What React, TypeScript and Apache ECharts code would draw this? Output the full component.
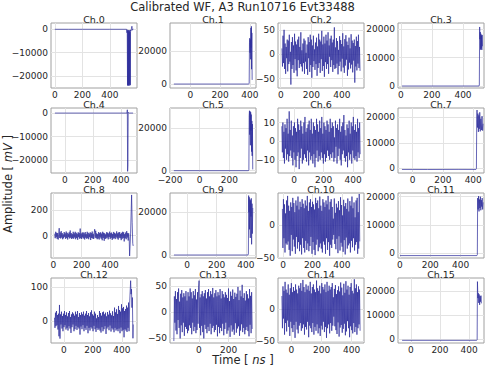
import React, { useEffect, useRef } from 'react';
import * as echarts from 'echarts';

// ---------------- data ----------------
const channelNames = ['Ch.0','Ch.1','Ch.2','Ch.3','Ch.4','Ch.5','Ch.6','Ch.7','Ch.8','Ch.9','Ch.10','Ch.11','Ch.12','Ch.13','Ch.14','Ch.15'];

// spike channels: [time ns, amplitude mV]
const ch0Pts = [[0,0],[100,0],[200,0],[300,0],[400,0],[522,0],[525,-1500],[527,-200],[529,-24000],[531,-600],[533,-24300],[535,-300],[537,-23900],[539,-900],[541,-24200],[543,-400],[545,-23700],[547,-1200],[549,-24000],[551,-300],[553,-800],[557,200],[561,1300],[564,-400],[570,200]];
const ch1Pts = [[-112,0],[0,0],[200,0],[390,0],[396,300],[398,25000],[400,27800],[402,19000],[404,27000],[406,15000],[408,34000],[409,22000],[411,35000],[412,9000],[414,31000],[416,2500]];
const ch3Pts = [[8,0],[200,0],[400,0],[503,0],[505,300],[507,20800],[509,16500],[511,19000],[513,12800],[515,18400],[517,13200],[519,17800],[521,12700],[523,18000],[525,14000]];
const ch4Pts = [[-71,0],[200,0],[444,0],[446,1400],[448,-24700],[450,-22000],[452,300],[460,0],[487,0]];
const ch5Pts = [[-174,0],[0,0],[329,0],[332,400],[334,26000],[336,28300],[338,17000],[340,28000],[342,12000],[344,27600],[346,19000],[348,26500],[350,9000],[352,23500],[354,7000],[356,22000],[358,600]];
const ch7Pts = [[-70,-500],[0,-500],[100,-520],[200,-500],[300,-480],[418,-500],[421,-200],[423,19000],[425,22900],[428,16000],[431,21500],[434,14300],[437,20800],[440,15500],[443,22000],[446,14500],[450,19500],[454,15000],[458,20500],[462,14800],[465,17500]];
const ch9Pts = [[-90,0],[0,0],[200,0],[414,0],[417,500],[419,27800],[421,20000],[423,27000],[425,12000],[428,26000],[430,8000],[432,25500],[435,18000],[437,26500],[439,5000],[442,24000],[444,10000],[447,22000]];
const ch11Pts = [[0,-800],[200,-800],[400,-800],[508,-800],[511,-500],[513,19500],[516,15500],[519,20200],[522,14800],[525,19000],[528,16000],[531,20000],[534,15200],[537,18800],[540,16500],[543,19500],[546,15500],[549,18000]];
const ch15Pts = [[-60,-500],[200,-500],[452,-500],[455,-200],[457,23800],[460,17000],[463,19000],[466,15000],[469,18500],[472,14200],[475,17800],[478,15500],[481,18000],[484,14800]];

// noise channels: amplitude samples (mV), evenly sampled over a time span (ns)
const ch2Span = [8, 519];
const ch2Vals = [12,-25,38,-18,50,-30,22,-40,15,-8,30,-35,28,-20,40,-15,5,-62,25,-30,
35,-22,18,-38,42,-10,26,-33,20,-45,30,-12,36,-28,15,-20,45,-25,8,-35,
22,-18,32,-40,28,-15,3,-30,20,-42,35,-8,25,-36,40,-22,30,-48,18,-26,
38,-14,10,-32,24,-20,34,-44,16,-28,42,-18,30,-38,26,-10,48,-34,20,-24,
36,-46,22,-16,40,-30,28,-20,45,-40,18,-5,32,-26,38,-12,24,-36,30,-22,
55,-30,14,-28,33,-19,27,-41,9,-24,37,-15,29,-35,21,-9,43,-27,16,-38,
31,-23,39,-11,26,-44,19,-31,34,-17,12,-29,41,-21,28,-37,23,-13,30,-58,
17,-25,36,-33,27,-19,40,-28,15,-34];
const ch6Span = [-83, 448];
const ch6Vals = [8,-6,10,-9,5,-12,9,-4,7,-10,12,-7,4,-11,16,-8,6,-5,11,-9,
3,-13,8,-6,10,-10,7,-14,5,-8,12,-6,9,-15,6,-9,11,-4,8,-12,
4,-10,10,-7,13,-9,5,-11,7,-5,9,-13,11,-6,6,-10,12,-8,4,-12,
10,-7,8,-14,6,-9,12,-5,9,-11,5,-8,11,-10,7,-6,13,-9,4,-12,
10,-7,8,-11,6,-9,11,-5,9,-8,5,-10,12,-7,7,-9,10,-6,8,-11,
2,-9,11,-3,7,-12,9,-8,6,-4,12,-10,5,-13,8,-7,10,-5,14,-9,
6,-11,3,-8,9,-14,7,-6,11,-10,4,-7,10,-12,8,-5,13,-9,6,-10,
9,-8,5,-11,12,-6,7,-9,10,-7];
const ch8Span = [10, 535];
const ch8Vals = [15,-20,30,-12,22,-25,20,-30,12,58,-18,25,-22,35,-15,20,-28,10,-20,28,
-10,18,-25,32,-18,22,-30,15,-12,26,-22,40,-16,20,-26,12,-20,30,-24,18,
-14,30,-28,22,-18,14,-32,26,-12,20,-24,55,-20,16,-26,24,-14,25,-22,18,
-30,28,-16,12,-24,30,-20,22,-28,16,-12,26,-34,20,-18,32,-22,14,-26,24,
50,-16,38,-20,18,-28,12,-22,28,-30,20,-14,26,-24,16,-36,30,-18,22,-40,
18,-26,10,-21,27,-15,23,-29,17,-11,31,-25,19,-17,24,-33,13,-23,29,-19,
21,-27,15,-13,33,-22,18,-31,25,-16,28,-20,14,-35,22,-24,30,-18,26,-45,
12,-20,24,-28,35,-15,20,-38,18,-25];
const ch8Tail = [[538,-158],[545,20],[552,317],[556,100],[560,-60],[563,-80]];
const ch10Span = [-5, 522];
const ch10Vals = [25,-35,40,-20,32,-42,18,-28,38,-30,45,-25,30,-38,22,-47,35,-15,28,-40,
42,-22,34,-33,20,-44,38,-18,30,-36,44,-26,24,-40,36,-30,28,-45,40,-20,
33,-35,26,-42,38,-24,30,-38,45,-28,22,-40,35,-32,40,-18,28,-44,36,-26,
32,-38,24,-46,42,-30,34,-22,38,-40,26,-34,44,-28,30,-36,22,-42,40,-25,
35,-30,28,-44,38,-20,32,-38,45,-26,24,-47,36,-30,40,-35,28,-22,10,-15,
41,-29,19,-37,33,-21,27,-43,37,-17,23,-39,43,-27,31,-33,15,-41,39,-23,
29,-45,34,-19,25,-36,41,-31,21,-28,37,-42,30,-24,44,-34,26,-20,35,-39,
12,-30,38,-26,42,-44,20,-36,48,-25];
const ch12Span = [-65, 450];
const ch12Vals = [10,-20,25,-15,30,-12,18,-25,22,-45,48,-52,20,-10,28,-22,15,-30,22,-18,
30,-12,18,-25,26,-20,14,-28,24,-15,30,-22,12,-35,20,-18,26,-10,22,-30,
16,-24,28,-14,20,-26,30,-18,12,-22,24,-40,18,-16,26,-24,20,-12,28,-30,
16,-20,22,-26,30,-14,18,-36,24,-20,14,-28,26,-18,32,-22,20,-30,16,-14,
28,-24,22,-32,8,-20,18,-26,12,-22,30,-28,24,-34,16,-18,26,-30,28,-24,
20,-15,25,-38,14,-22,27,-17,19,-27,31,-13,23,-31,17,-21,29,-25,15,-33,
40,-20,26,-28,35,-24,21,-30,45,-22,33,-36,28,-19,50,-30,38,-26,42,-48,
30,-24,36,-28,46,-32,40,-20,55,-30];
const ch12Tail = [[455,60],[461,120],[464,80],[467,95],[470,40],[473,70],[477,-51],[479,-10]];
const ch13Span = [-169, 359];
const ch13Vals = [-55,30,-20,40,-35,25,-42,38,-15,45,-30,20,-50,35,-25,42,-38,28,-20,36,
-45,30,-28,40,-32,22,-40,38,-35,30,-25,45,-30,38,-42,26,-20,40,-36,32,
-28,44,-40,24,-34,38,-22,46,60,-30,28,-44,34,-26,40,-38,30,-50,36,-24,
42,-32,26,-40,38,-28,44,-36,30,-22,40,-42,34,-30,46,-26,28,-38,36,-34,
42,-24,30,-46,38,-28,32,-40,44,-30,26,-36,40,-22,34,-44,28,-32,38,-20,
33,-41,27,-35,45,-29,21,-47,39,-25,31,-37,43,-33,25,-43,37,-21,29,-39,
35,-31,48,-27,23,-45,41,-35,30,-23,52,-38,27,-30,36,-42,22,-34,40,-28,
34,-36,26,-46,44,-24,31,-40,38,-32];
const ch14Span = [-63, 456];
const ch14Vals = [20,-30,35,-15,28,-40,42,-22,30,-35,25,-18,38,-28,22,-42,32,-20,40,-30,
26,-36,34,-25,28,-45,38,-20,30,-32,24,-38,36,-26,32,-22,40,-34,28,-30,
45,-24,34,-40,26,-28,38,-32,30,-20,36,-44,28,-26,42,-30,24,-36,34,-22,
38,-40,30,-28,26,-34,44,-24,32,-38,28,-30,36,-42,24,-26,40,-32,34,-20,
30,-36,38,-28,26,-45,42,-30,28,-24,36,-38,30,-22,34,-34,40,-26,18,-12,
31,-27,37,-33,23,-39,29,-21,35,-43,27,-29,41,-25,33,-37,21,-31,39,-23,
25,-41,43,-35,30,-19,36,-30,22,-44,34,-27,40,-33,28,-38,24,-22,46,-36,
32,-28,38,-40,26,-30,35,-24,30,-34];

// tick values
const xTicks = [[0,200,400],[0,200,400],[0,200,400],[0,200,400],[0,200,400],[-200,0,200],[0,200,400],[0,200,400],[0,200,400],[0,200,400],[0,200,400],[0,200,400],[0,200,400],[0,200],[0,200,400],[0,200,400]];
const yTicks = [[-20000,-10000,0],[0,20000],[-50,0,50],[0,10000,20000],[-20000,-10000,0],[0,20000],[-10,0,10],[0,10000,20000],[0,200],[0,20000],[-50,0],[0,10000,20000],[0,100],[-50,0,50],[-50,0],[0,10000,20000]];

// axis view limits
const xLim = [[-28,598],[-138,442],[-18,545],[-18,535],[-99,515],[-200,380],[-109,474],[-96,471],[-16,590],[-117,469],[-35,551],[-13,555],[-89,505],[-195,385],[-89,482],[-88,502]];
const yLim = [[-25200,2700],[-2400,37000],[-69,64],[-700,22200],[-25400,2150],[-1100,29600],[-17.1,17.8],[-1900,23700],[-174,332],[-1400,29000],[-50.5,49.5],[-1650,21300],[-65,128],[-58.7,65],[-53,48],[-1600,25300]];

// ---------------- layout ----------------
const colLeft = [51, 170, 278, 398];
const rowTop = [23, 108, 193, 278];
const plotW = 86;
const plotH = 65;

function spread(vals: number[], span: number[]) {
  const n = vals.length;
  return vals.map((v, i) => [span[0] + ((span[1] - span[0]) * i) / (n - 1), v]);
}

const channelData = [
  ch0Pts, ch1Pts, spread(ch2Vals, ch2Span), ch3Pts,
  ch4Pts, ch5Pts, spread(ch6Vals, ch6Span), ch7Pts,
  spread(ch8Vals, ch8Span).concat(ch8Tail), ch9Pts, spread(ch10Vals, ch10Span), ch11Pts,
  spread(ch12Vals, ch12Span).concat(ch12Tail), spread(ch13Vals, ch13Span), spread(ch14Vals, ch14Span), ch15Pts,
];

const fmt = (v: number) => (v < 0 ? '\u2212' + Math.abs(v) : String(v));
const FONT = 'DejaVu Sans';
const TXT = '#262626';

export default function App() {
  const ref = useRef<HTMLDivElement>(null);
  useEffect(() => {
    if (!ref.current) return;
    const chart = echarts.init(ref.current, undefined, { renderer: 'svg' });
    const grid: any[] = [];
    const xAxis: any[] = [];
    const yAxis: any[] = [];
    const series: any[] = [];
    const graphic: any[] = [];
    for (let i = 0; i < 16; i++) {
      const r = Math.floor(i / 4), c = i % 4;
      grid.push({
        left: colLeft[c], top: rowTop[r], width: plotW, height: plotH,
        show: true, borderColor: '#a0a0a0', borderWidth: 1, backgroundColor: '#fff',
      });
      xAxis.push({
        type: 'value', gridIndex: i, min: xLim[i][0], max: xLim[i][1],
        axisLine: { show: false }, axisTick: { show: false, customValues: xTicks[i] },
        axisLabel: { customValues: xTicks[i], formatter: fmt, fontSize: 9, fontFamily: FONT, color: TXT, margin: 2, hideOverlap: false },
        splitLine: { show: true, lineStyle: { color: '#e3e3e3', width: 1 } },
      });
      yAxis.push({
        type: 'value', gridIndex: i, min: yLim[i][0], max: yLim[i][1],
        axisLine: { show: false }, axisTick: { show: false, customValues: yTicks[i] },
        axisLabel: { customValues: yTicks[i], formatter: fmt, fontSize: 9, fontFamily: FONT, color: TXT, margin: 3 },
        splitLine: { show: true, lineStyle: { color: '#e3e3e3', width: 1 } },
      });
      series.push({
        type: 'line', xAxisIndex: i, yAxisIndex: i, data: channelData[i],
        showSymbol: false, symbol: 'none', clip: true,
        lineStyle: { color: 'rgba(45,45,155,0.72)', width: 1 },
      });
      graphic.push({
        type: 'text', x: colLeft[c] + plotW / 2, y: rowTop[r] - 4,
        style: { text: channelNames[i], fontSize: 9.5, fontFamily: FONT, fill: TXT, align: 'center', verticalAlign: 'middle' },
      });
    }
    graphic.push({
      type: 'text', x: 242.5, y: 7,
      style: { text: 'Calibrated WF, A3 Run10716 Evt33488', fontSize: 11.5, fontFamily: FONT, fill: TXT, align: 'center', verticalAlign: 'middle' },
    });
    graphic.push({
      type: 'text', x: 243, y: 360,
      style: {
        text: '{a|Time [ }{b|ns}{a| ]}', align: 'center', verticalAlign: 'middle',
        rich: {
          a: { fontSize: 11.5, fontFamily: FONT, fill: TXT, color: TXT },
          b: { fontSize: 11.5, fontFamily: FONT, fontStyle: 'italic', fill: TXT, color: TXT },
        },
      },
    });
    graphic.push({
      type: 'text', x: 8, y: 184, rotation: Math.PI / 2,
      style: {
        text: '{a|Amplitude [ }{b|mV}{a| ]}', align: 'center', verticalAlign: 'middle',
        rich: {
          a: { fontSize: 11.5, fontFamily: FONT, fill: TXT, color: TXT },
          b: { fontSize: 11.5, fontFamily: FONT, fontStyle: 'italic', fill: TXT, color: TXT },
        },
      },
    });
    chart.setOption({ animation: false, backgroundColor: '#fff', grid, xAxis, yAxis, series, graphic });
    return () => chart.dispose();
  }, []);
  return <div ref={ref} style={{ width: 485, height: 369, position: 'absolute', left: 0, top: 0 }} />;
}
